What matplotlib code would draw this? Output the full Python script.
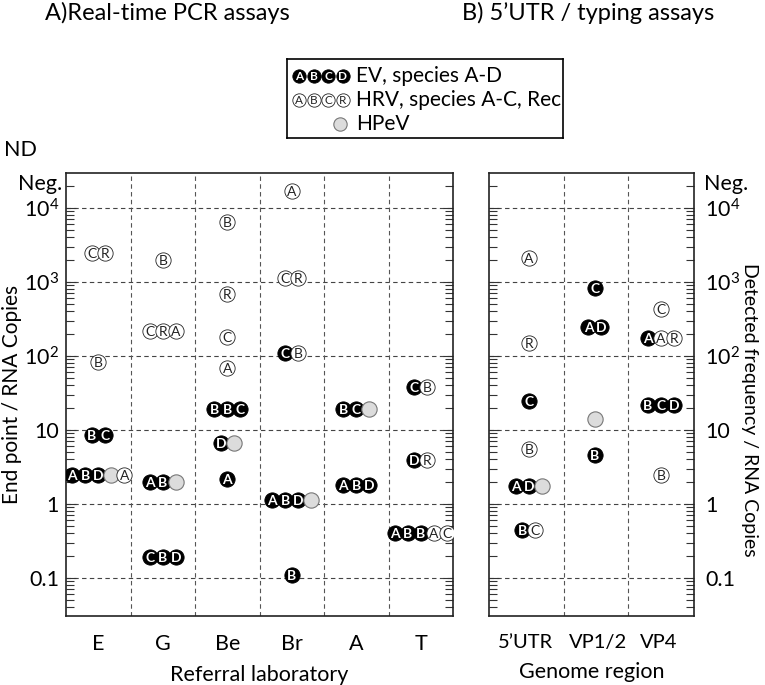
import numpy as np
import matplotlib
matplotlib.use('Agg')
import matplotlib.pyplot as plt
import matplotlib.transforms as mtransforms
from matplotlib.ticker import LogLocator, NullFormatter

plt.rcParams.update({
    'font.family': 'Lato',
    'font.size': 15.5,
    'mathtext.default': 'regular',
})

# A) real-time PCR assays, one group of circles per entry
labs = ['E', 'G', 'Be', 'Br', 'A', 'T']
a_col = [0, 0, 0, 0,
         1, 1, 1, 1,
         2, 2, 2, 2, 2, 2, 2,
         3, 3, 3, 3, 3,
         4, 4,
         5, 5, 5]
a_val = [2500, 83, 8.5, 2.5,
         2000, 215, 2.0, 0.19,
         6500, 690, 182, 68, 19.5, 6.6, 2.2,
         17000, 1120, 110, 1.12, 0.11,
         19.5, 1.8,
         38, 3.9, 0.40]
a_lab = ['CR', 'B', 'BC', 'ABD-A',
         'B', 'CRA', 'AB-', 'CBD',
         'B', 'R', 'C', 'A', 'BBC', 'D-', 'A',
         'A', 'CR', 'CB', 'ABD-', 'B',
         'BC-', 'ABD',
         'CB', 'DR', 'ABBAC']
# f = EV (black), o = HRV (open), g = HPeV (grey)
a_kind = ['oo', 'o', 'ff', 'fffgo',
          'o', 'ooo', 'ffg', 'fff',
          'o', 'o', 'o', 'o', 'fff', 'fg', 'f',
          'o', 'oo', 'fo', 'fffg', 'f',
          'ffg', 'fff',
          'fo', 'fo', 'fffoo']

# B) 5'UTR / typing assays
regions = ['5\u2019UTR', 'VP1/2', 'VP4']
b_col = [0, 0, 0, 0, 0, 0, 1, 1, 1, 1, 2, 2, 2, 2]
b_val = [2100, 150, 25, 5.6, 1.75, 0.45, 820, 245, 14, 4.6, 430, 175, 22, 2.5]
b_lab = ['A', 'R', 'C', 'B', 'AD-', 'BC', 'C', 'AD', '-', 'B', 'C', 'AAR', 'BCD', 'B']
b_kind = ['o', 'o', 'f', 'o', 'ffg', 'fo', 'f', 'ff', 'g', 'f', 'o', 'foo', 'fff', 'o']

dec_ticks = [0.1, 1, 10, 100, 1000, 10000]
dec_labels = ['0.1', '1', '10', '$10^2$', '$10^3$', '$10^4$']
neg_val = 10**4.33
nd_val = 10**4.78

fig = plt.figure(figsize=(7.65, 6.85), dpi=100)
W, H = 765, 685
ax1 = fig.add_axes([66/W, 1-616/H, 387/W, 443/H])
ax2 = fig.add_axes([489/W, 1-616/H, 205/W, 443/H])


def draw_group(ax, x0, y, lab, kind, step, ms, fs, clip=True):
    n = len(lab)
    # shift text down by half a cap height so letters sit centred in the circle
    ttr = mtransforms.offset_copy(ax.transData, fig=fig, y=-fs*0.36, units='points')
    for i, (ch, k) in enumerate(zip(lab, kind)):
        x = x0 + (i - (n-1)/2)*step
        z = 3 + i
        if k == 'f':
            ax.plot(x, y, 'o', ms=ms, mfc='black', mec='black', mew=0.6, zorder=z, clip_on=clip)
            ax.text(x, y, ch, color='white', fontsize=fs, fontweight='bold', ha='center',
                    va='baseline', transform=ttr, zorder=z+0.5, clip_on=clip)
        elif k == 'o':
            ax.plot(x, y, 'o', ms=ms, mfc='white', mec='#222222', mew=0.6, zorder=z, clip_on=clip)
            ax.text(x, y, ch, color='#222222', fontsize=fs, ha='center',
                    va='baseline', transform=ttr, zorder=z+0.5, clip_on=clip)
        else:
            ax.plot(x, y, 'o', ms=ms, mfc='#dcdcdc', mec='#777777', mew=0.8, zorder=z, clip_on=clip)


def style_axes(ax, xlim, vlines):
    ax.set_yscale('log')
    ax.set_xlim(*xlim)
    ax.set_ylim(10**-1.514, 10**4.473)
    ax.set_yticks(dec_ticks)
    ax.set_yticklabels(dec_labels)
    ax.yaxis.set_minor_locator(LogLocator(base=10, subs=np.arange(2, 10), numticks=20))
    ax.yaxis.set_minor_formatter(NullFormatter())
    ax.tick_params(axis='y', which='both', direction='in', left=True, right=True,
                   color='#333333', width=0.8)
    ax.tick_params(axis='y', which='major', length=7, pad=5)
    ax.tick_params(axis='y', which='minor', length=6)
    ax.tick_params(axis='x', length=0, pad=13)
    for v in dec_ticks:
        ax.axhline(v, color='#444444', lw=0.8, ls=(0, (4, 3)), zorder=1)
    for v in vlines:
        ax.axvline(v, color='#555555', lw=0.8, ls=(0, (4, 3)), zorder=1)
    for s in ax.spines.values():
        s.set_linewidth(1.2)
        s.set_color('#222222')


# left panel
style_axes(ax1, (-0.5, 5.5), [0.5, 1.5, 2.5, 3.5, 4.5])
ax1.set_xticks(range(len(labs)))
ax1.set_xticklabels(labs)
step1 = 13.0 / 64.5
for c, v, l, k in zip(a_col, a_val, a_lab, a_kind):
    draw_group(ax1, c, v, l.replace('-', ' '), k, step1, 11, 10)
ax1.set_xlabel('Referral laboratory', labelpad=8)
ax1.set_ylabel('End point / RNA Copies', labelpad=1, fontsize=15)
btr = mtransforms.blended_transform_factory(ax1.transAxes, ax1.transData)
ax1.text(-0.01, neg_val, 'Neg.', transform=btr, ha='right', va='center')
ax1.text(-0.075, nd_val, 'ND', transform=btr, ha='right', va='center', clip_on=False)

# right panel
style_axes(ax2, (-0.606, 2.5), [0.53, 1.5])
ax2.set_xticks([-0.06, 1.05, 1.96])
ax2.set_xticklabels(regions, fontsize=14.5)
ax2.yaxis.tick_right()
ax2.tick_params(axis='y', which='both', left=True, right=True, labelleft=False, labelright=True)
ax2.tick_params(axis='y', which='major', pad=8)
step2 = 13.0 / 66.0
for c, v, l, k in zip(b_col, b_val, b_lab, b_kind):
    draw_group(ax2, c, v, l.replace('-', ' '), k, step2, 11, 10)
ax2.set_xlabel('Genome region', labelpad=8)
ax2.yaxis.set_label_position('right')
ax2.set_ylabel('Detected frequency / RNA Copies', rotation=270, labelpad=4, fontsize=14)
ax2.yaxis.set_label_coords(1.31, 0.465)
btr2 = mtransforms.blended_transform_factory(ax2.transAxes, ax2.transData)
ax2.text(1.05, neg_val, 'Neg.', transform=btr2, ha='left', va='center')

# panel titles
fig.text(45/W, 1-20/H, 'A)Real-time PCR assays', ha='left', va='baseline', fontsize=17)
fig.text(462/W, 1-20/H, 'B) 5\u2019UTR / typing assays', ha='left', va='baseline', fontsize=17)

# legend box
leg = fig.add_axes([286.7/W, 1-137.7/H, 276.6/W, 78.7/H])
leg.set_xlim(0, 276.6)
leg.set_ylim(78.7, 0)
leg.set_xticks([])
leg.set_yticks([])
for s in leg.spines.values():
    s.set_linewidth(1.2)
leg_rows = [('ABCD', 'ffff', 'EV, species A-D'),
            ('ABCR', 'oooo', 'HRV, species A-C, Rec'),
            (' ', 'g', 'HPeV')]
row_y = [17, 41, 65]
for (l, k, t), ry in zip(leg_rows, row_y):
    n = len(l)
    x0 = 12.6 + (n - 1) * 14.4 / 2 if n > 1 else 53.3
    draw_group(leg, x0, ry, l, k, 14.4, 9.6, 8.5, clip=False)
    leg.text(69.3, ry, t, ha='left', va='center', fontsize=15)

fig.savefig('out.png', dpi=100)
